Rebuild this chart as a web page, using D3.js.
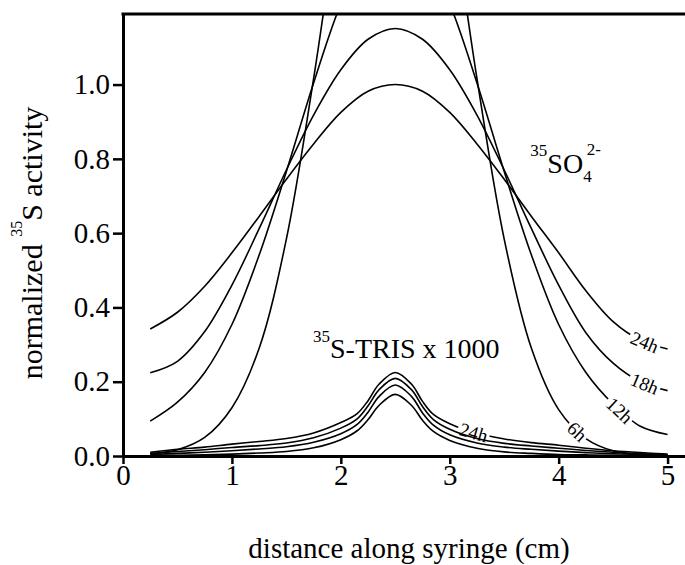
<!DOCTYPE html>
<html>
<head>
<meta charset="utf-8">
<script src="https://cdn.jsdelivr.net/npm/d3@7"></script>
<style>
  body { margin: 0; background: #fff; }
  svg { display: block; }
  svg text { font-family: "Liberation Serif", "Times New Roman", serif; }
</style>
</head>
<body>
<svg id="chart" width="685" height="565"></svg>
<script>
// ---------------- data ----------------
// 35SO4 2- profiles, normalized activity vs distance (cm)
const soX    = [0.25, 0.5, 0.75, 1.0, 1.25, 1.5, 1.75, 2.0, 2.25, 2.5, 2.75, 3.0, 3.25, 3.5, 3.75, 4.0, 4.25, 4.5, 4.75, 5.0];
const so6h   = [0.006, 0.017, 0.05, 0.13, 0.29, 0.584, 1.016, 1.508, 1.913, 2.07, 1.913, 1.508, 1.016, 0.584, 0.29, 0.125, 0.047, 0.014, 0.004, 0.001];
const so12h  = [0.094, 0.145, 0.225, 0.354, 0.541, 0.766, 1.004, 1.217, 1.366, 1.42, 1.366, 1.217, 1.004, 0.766, 0.541, 0.354, 0.225, 0.14, 0.08, 0.058];
const so18h  = [0.224, 0.255, 0.335, 0.46, 0.612, 0.77, 0.918, 1.04, 1.122, 1.151, 1.122, 1.04, 0.918, 0.77, 0.612, 0.46, 0.332, 0.25, 0.2, 0.176];
const so24h  = [0.342, 0.387, 0.457, 0.547, 0.645, 0.745, 0.84, 0.925, 0.982, 1.0, 0.982, 0.925, 0.84, 0.745, 0.645, 0.547, 0.445, 0.362, 0.312, 0.288];

// 35S-TRIS profiles (x 1000)
const trisX   = [0.25, 0.5, 0.75, 1.0, 1.25, 1.5, 1.75, 2.0, 2.15, 2.25, 2.35, 2.5, 2.65, 2.75, 2.85, 3.0, 3.25, 3.5, 3.75, 4.0, 4.25, 4.5, 4.75, 5.0];
const tris6h  = [0.001, 0.002, 0.003, 0.005, 0.008, 0.012, 0.022, 0.044, 0.068, 0.098, 0.136, 0.166, 0.136, 0.096, 0.066, 0.042, 0.021, 0.011, 0.007, 0.004, 0.003, 0.002, 0.001, 0.0];
const tris12h = [0.004, 0.007, 0.01, 0.014, 0.019, 0.025, 0.037, 0.06, 0.085, 0.118, 0.16, 0.191, 0.16, 0.116, 0.083, 0.057, 0.035, 0.024, 0.018, 0.013, 0.009, 0.006, 0.004, 0.002];
const tris18h = [0.007, 0.012, 0.017, 0.023, 0.028, 0.035, 0.049, 0.075, 0.1, 0.135, 0.178, 0.209, 0.178, 0.133, 0.098, 0.072, 0.047, 0.034, 0.027, 0.021, 0.015, 0.01, 0.006, 0.003];
const tris24h = [0.01, 0.018, 0.024, 0.032, 0.039, 0.047, 0.062, 0.09, 0.114, 0.149, 0.193, 0.225, 0.193, 0.147, 0.112, 0.087, 0.061, 0.046, 0.036, 0.029, 0.021, 0.014, 0.009, 0.005];

const xTicks = [0, 1, 2, 3, 4, 5];
const yTicks = [0.0, 0.2, 0.4, 0.6, 0.8, 1.0];

// inline curve labels: which series, and at what distance (cm)
const curveLabels = [
  { id: "so24", text: "24h", at: 4.79 },
  { id: "so18", text: "18h", at: 4.79 },
  { id: "so12", text: "12h", at: 4.56 },
  { id: "so6",  text: "6h",  at: 4.17 },
  { id: "tris24", text: "24h", at: 3.22 }
];

// ---------------- setup ----------------
const W = 685, H = 565;
const plotLeft = 123, plotTop = 14, plotBottom = 456;

const x = d3.scaleLinear().domain([0, 5.16]).range([plotLeft, W]);
const y = d3.scaleLinear().domain([0, 1.19]).range([plotBottom, plotTop]);

const svg = d3.select("#chart");
const defs = svg.append("defs");

defs.append("clipPath").attr("id", "plot-clip")
  .append("rect")
  .attr("x", plotLeft).attr("y", plotTop)
  .attr("width", W - plotLeft).attr("height", plotBottom - plotTop);

const series = [
  { id: "so6",    xs: soX,   ys: so6h },
  { id: "so12",   xs: soX,   ys: so12h },
  { id: "so18",   xs: soX,   ys: so18h },
  { id: "so24",   xs: soX,   ys: so24h },
  { id: "tris6",  xs: trisX, ys: tris6h },
  { id: "tris12", xs: trisX, ys: tris12h },
  { id: "tris18", xs: trisX, ys: tris18h },
  { id: "tris24", xs: trisX, ys: tris24h }
];

const line = d3.line()
  .x(d => x(d[0]))
  .y(d => y(d[1]))
  .curve(d3.curveCatmullRom.alpha(0.5));

// one mask per curve, labels punch holes in it
series.forEach(s => {
  const m = defs.append("mask").attr("id", "mask-" + s.id)
    .attr("maskUnits", "userSpaceOnUse")
    .attr("x", 0).attr("y", 0).attr("width", W).attr("height", H);
  m.append("rect").attr("x", 0).attr("y", 0).attr("width", W).attr("height", H).attr("fill", "#fff");
});

const plot = svg.append("g").attr("clip-path", "url(#plot-clip)");

const paths = {};
series.forEach(s => {
  const pts = s.xs.map((v, i) => [v, s.ys[i]]);
  paths[s.id] = plot.append("g").attr("mask", "url(#mask-" + s.id + ")")
    .append("path")
    .datum(pts)
    .attr("fill", "none")
    .attr("stroke", "#000")
    .attr("stroke-width", 1.6)
    .attr("d", line);
});

// ---------------- axes ----------------
const xAxis = svg.append("g")
  .attr("transform", "translate(0," + plotBottom + ")")
  .call(d3.axisBottom(x).tickValues(xTicks).tickFormat(d3.format("d"))
    .tickSize(8).tickSizeOuter(0).tickPadding(0));

const yAxis = svg.append("g")
  .attr("transform", "translate(" + plotLeft + ",0)")
  .call(d3.axisLeft(y).tickValues(yTicks).tickFormat(d3.format(".1f"))
    .tickSize(10).tickSizeOuter(0).tickPadding(3));

[xAxis, yAxis].forEach(a => {
  a.attr("font-family", null).attr("font-size", null);
  a.select(".domain").attr("stroke-width", 3);
  a.selectAll(".tick line").attr("stroke-width", 2.5);
  a.selectAll(".tick text")
    .style("font-family", "'Liberation Serif', 'Times New Roman', serif")
    .style("font-size", "29px")
    .attr("fill", "#000");
});

// top frame line
svg.append("line")
  .attr("x1", plotLeft - 1.5).attr("x2", W)
  .attr("y1", plotTop).attr("y2", plotTop)
  .attr("stroke", "#000").attr("stroke-width", 3);

// ---------------- titles ----------------
svg.append("text")
  .attr("x", 409).attr("y", 558)
  .attr("text-anchor", "middle")
  .style("font-size", "29px")
  .text("distance along syringe (cm)");

const yt = svg.append("text")
  .attr("transform", "translate(42,243) rotate(-90)")
  .attr("text-anchor", "middle")
  .style("font-size", "30px");
yt.append("tspan").text("normalized ");
yt.append("tspan").attr("dy", -20).style("font-size", "16px").text("35");
yt.append("tspan").attr("dy", 20).text("S activity");

// ---------------- species labels ----------------
const soLab = svg.append("text")
  .attr("x", x(3.74)).attr("y", y(0.762))
  .style("font-size", "28px");
soLab.append("tspan").attr("dy", -17).style("font-size", "17px").text("35");
soLab.append("tspan").attr("dy", 17).text("SO");
soLab.append("tspan").attr("dy", 9).style("font-size", "17px").text("4");
soLab.append("tspan").attr("dy", -27).attr("dx", -5).style("font-size", "17px").text("2-");

const trLab = svg.append("text")
  .attr("x", x(1.745)).attr("y", y(0.264))
  .style("font-size", "28px");
trLab.append("tspan").attr("dy", -16).style("font-size", "17px").text("35");
trLab.append("tspan").attr("dy", 16).text("S-TRIS x 1000");

// ---------------- inline curve labels ----------------
function lengthAtX(node, px) {
  let lo = 0, hi = node.getTotalLength();
  for (let i = 0; i < 40; i++) {
    const mid = (lo + hi) / 2;
    if (node.getPointAtLength(mid).x < px) lo = mid; else hi = mid;
  }
  return lo;
}

curveLabels.forEach(l => {
  const node = paths[l.id].node();
  const total = node.getTotalLength();
  const len = lengthAtX(node, x(l.at));
  const p = node.getPointAtLength(len);
  const p1 = node.getPointAtLength(Math.max(0, len - 13));
  const p2 = node.getPointAtLength(Math.min(total, len + 13));
  const ang = Math.atan2(p2.y - p1.y, p2.x - p1.x) * 180 / Math.PI;

  const t = svg.append("text")
    .attr("transform", "translate(" + p.x + "," + p.y + ") rotate(" + ang + ")")
    .attr("text-anchor", "middle")
    .attr("dy", "0.35em")
    .style("font-size", "19px")
    .text(l.text);
  const tw = t.node().getComputedTextLength();

  d3.select("#mask-" + l.id).append("rect")
    .attr("transform", "translate(" + p.x + "," + p.y + ") rotate(" + ang + ")")
    .attr("x", -tw / 2 - 2).attr("y", -8)
    .attr("width", tw + 4).attr("height", 16)
    .attr("fill", "#000");
});
</script>
</body>
</html>
